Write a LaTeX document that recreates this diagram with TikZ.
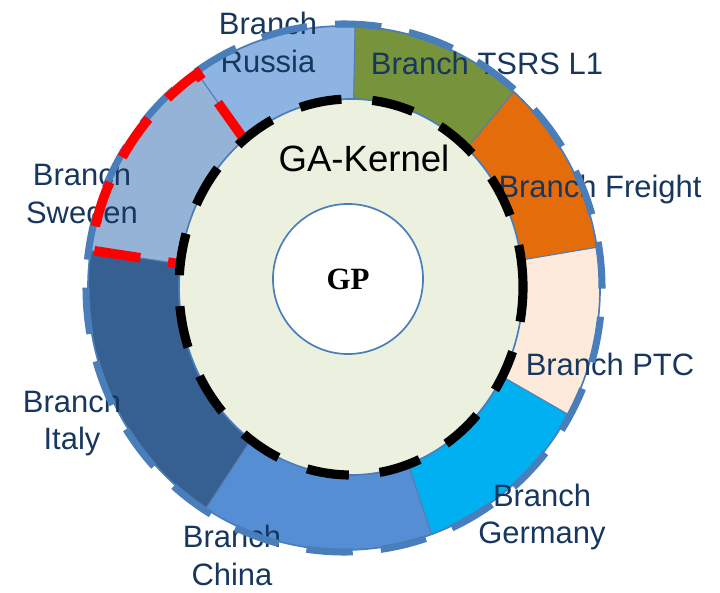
\documentclass[tikz,border=0pt]{standalone}
\usepackage{fontspec}
\setmainfont{Liberation Sans}
\newfontfamily\gpfont{Liberation Serif}
\usetikzlibrary{calc}

\definecolor{russiablue}{HTML}{8DB4E2}
\definecolor{swedenblue}{HTML}{95B3D7}
\definecolor{italyblue}{HTML}{376092}
\definecolor{chinablue}{HTML}{558ED5}
\definecolor{germanycyan}{HTML}{00B0F0}
\definecolor{ptcpeach}{HTML}{FDEADA}
\definecolor{freightorange}{HTML}{E46C0A}
\definecolor{tsrsgreen}{HTML}{77933C}
\definecolor{kernelgreen}{HTML}{EBF1DE}
\definecolor{rimblue}{HTML}{4A7EBB}
\definecolor{labelnavy}{HTML}{17375E}
\definecolor{markred}{HTML}{FF0000}

\begin{document}
\begin{tikzpicture}[x=0.025cm,y=0.025cm,
    branch/.style={text=labelnavy,font=\fontsize{22}{27}\selectfont,align=center,inner sep=0pt},
    rimline/.style={draw=rimblue,line width=1.2pt}]
  \useasboundingbox (0,0) rectangle (720,592);
  \coordinate (hub) at (350,303);
  \coordinate (rim) at (344,304);
  \coordinate (core) at (351,305);

  % ring segments
  \begin{scope}
    \clip (rim) ellipse [x radius=256, y radius=262];
    \foreach \from/\to/\col in {88.9/125.3/russiablue, 125.3/171.6/swedenblue,
        171.6/236.7/italyblue, 236.7/288.4/chinablue, 288.4/330.1/germanycyan,
        -29.9/9.6/ptcpeach, 9.6/50.3/freightorange, 50.3/88.9/tsrsgreen}
      \fill[\col,shift={(hub)}] (0,0) -- (\from:450) -- (\to:450) -- cycle;
    \foreach \a in {88.9,125.3,171.6,236.7,288.4,330.1,9.6,50.3}
      \draw[draw=rimblue!80!gray,line width=0.8pt] (hub) -- ++(\a:450);
  \end{scope}
  \draw[rimline] (rim) ellipse [x radius=256, y radius=262];

  % kernel and GP
  \filldraw[rimline,fill=kernelgreen] (core) ellipse [x radius=172, y radius=188];
  \node[circle,draw=rimblue,line width=1.2pt,fill=white,minimum size=3.75cm,inner sep=0pt,
        font=\gpfont\bfseries\fontsize{22}{26}\selectfont](gp)at(348,313){GP};
  \node[font=\fontsize{26}{30}\selectfont,inner sep=0pt](kernel)at(364,434){GA-Kernel};

  % labels
  \node[branch](russia)at(268,550){Branch\\Russia};
  \node[branch](tsrs)at(487,529){Branch TSRS L1};
  \node[branch](freight)at(600,402){Branch Freight};
  \node[branch](ptc)at(610,228){Branch PTC};
  \node[branch](germany)at(542,75){Branch\\Germany};
  \node[branch](china)at(232,37){Branch\\China};
  \node[branch](italy)at(72,169){Branch\\Italy};
  \node[branch](sweden)at(82,399){Branch\\Sweden};

  % dashed outlines
  \draw[rimblue,line width=5pt,dash pattern=on 33pt off 20pt]
    (rim) ellipse [x radius=258, y radius=264];
  \coordinate (srin) at ($(hub)+(125.3:182)$);
  \coordinate (isin) at ($(hub)+(171.6:172)$);
  \draw[markred,line width=6.8pt,dash pattern=on 33pt off 20pt]
    (srin) -- ($(rim)+(125:256 and 262)$)
    arc[start angle=125,end angle=171.7,x radius=256,y radius=262] -- (isin);
  \draw[black,line width=6.5pt,dash pattern=on 30pt off 22pt]
    (core) ellipse [x radius=172, y radius=188];
\end{tikzpicture}
\end{document}
